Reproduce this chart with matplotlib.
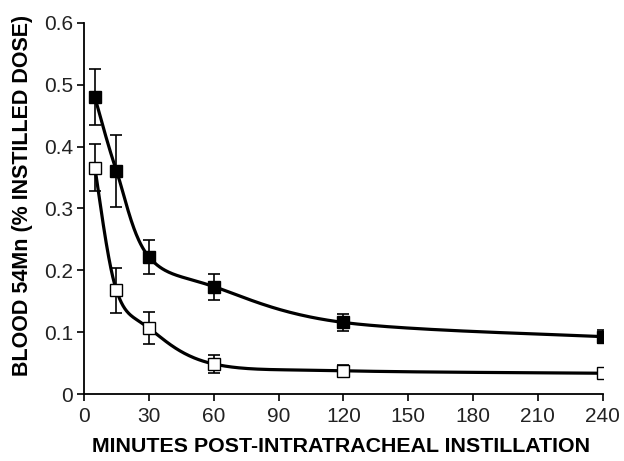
import numpy as np
import matplotlib
matplotlib.use("Agg")
import matplotlib.pyplot as plt

plt.rcParams['font.family'] = ['Liberation Sans', 'DejaVu Sans']

# --- data
minutes = [5, 15, 30, 60, 120, 240]
filled_mean = [0.480, 0.361, 0.222, 0.174, 0.116, 0.093]
filled_err = [0.046, 0.058, 0.027, 0.021, 0.014, 0.010]
open_mean = [0.366, 0.168, 0.107, 0.049, 0.038, 0.034]
open_err = [0.038, 0.036, 0.026, 0.015, 0.010, 0.008]

x_ticks = [0, 30, 60, 90, 120, 150, 180, 210, 240]
y_ticks = [0, 0.1, 0.2, 0.3, 0.4, 0.5, 0.6]


def smooth_curve(xs, ys, n=60):
    """Excel-like smoothed line: cubic Bezier with Catmull-Rom control points."""
    xs = np.asarray(xs, float)
    ys = np.asarray(ys, float)
    px, py = [], []
    m = len(xs)
    for i in range(m - 1):
        x0, y0 = (xs[i - 1], ys[i - 1]) if i > 0 else (xs[i], ys[i])
        x1, y1 = xs[i], ys[i]
        x2, y2 = xs[i + 1], ys[i + 1]
        x3, y3 = (xs[i + 2], ys[i + 2]) if i + 2 < m else (xs[i + 1], ys[i + 1])
        c1x, c1y = x1 + (x2 - x0) / 6, y1 + (y2 - y0) / 6
        c2x, c2y = x2 - (x3 - x1) / 6, y2 - (y3 - y1) / 6
        t = np.linspace(0, 1, n)
        b0, b1, b2, b3 = (1 - t) ** 3, 3 * t * (1 - t) ** 2, 3 * t ** 2 * (1 - t), t ** 3
        px.extend(b0 * x1 + b1 * c1x + b2 * c2x + b3 * x2)
        py.extend(b0 * y1 + b1 * c1y + b2 * c2y + b3 * y2)
    return np.array(px), np.array(py)


fig = plt.figure(figsize=(6.24, 4.61), dpi=100)
ax = fig.add_axes([0.1346, 0.1447, 0.8314, 0.8061])

for mean, err, face in [(filled_mean, filled_err, "black"), (open_mean, open_err, "white")]:
    sx, sy = smooth_curve(minutes, mean)
    ax.plot(sx, sy, color="black", lw=2.3, zorder=2)
    ax.errorbar(minutes, mean, yerr=err, fmt="none", ecolor="black",
                elinewidth=1.2, capsize=4.5, capthick=1.2, zorder=3)
    ax.plot(minutes, mean, ls="none", marker="s", ms=8, mfc=face,
            mec="black", mew=1.0, zorder=4)

ax.set_xlim(0, 240)
ax.set_ylim(0, 0.6)
ax.set_xticks(x_ticks)
ax.set_yticks(y_ticks)
ax.set_yticklabels(["0", "0.1", "0.2", "0.3", "0.4", "0.5", "0.6"])
ax.spines["top"].set_visible(False)
ax.spines["right"].set_visible(False)
ax.spines["left"].set_linewidth(1.3)
ax.spines["bottom"].set_linewidth(1.3)
ax.tick_params(direction="out", length=5, width=1.2, labelsize=15, colors="black")
ax.tick_params(axis="x", pad=4)
ax.tick_params(axis="y", pad=3)
for lab in ax.get_xticklabels() + ax.get_yticklabels():
    lab.set_color("#222222")

fig.text(0.547, 0.01, "MINUTES POST-INTRATRACHEAL INSTILLATION",
         ha="center", va="bottom", fontsize=15.4, fontweight="bold")
fig.text(0.036, 0.575, "BLOOD 54Mn (% INSTILLED DOSE)", rotation=90,
         ha="center", va="center", fontsize=15.5, fontweight="bold")

fig.savefig("out.png", dpi=100)
